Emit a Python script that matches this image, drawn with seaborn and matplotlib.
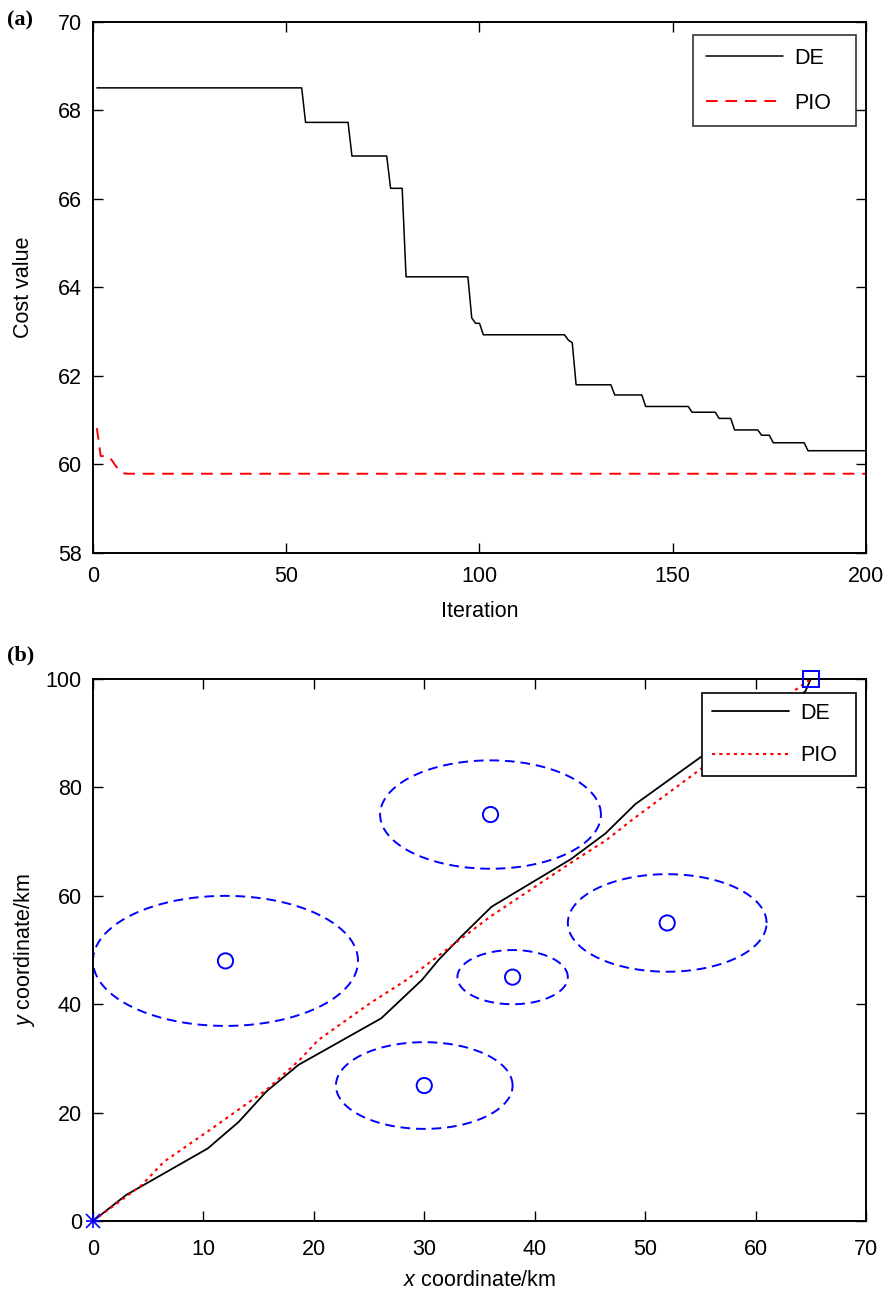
import matplotlib
matplotlib.use("Agg")
import matplotlib.pyplot as plt
import numpy as np
import pandas as pd
import seaborn as sns

# (a) convergence curves
de_iter = [1, 54, 55, 66, 67, 76, 77, 80, 81, 97, 98, 99, 100, 101, 122, 123, 124, 125,
           134, 135, 142, 143, 154, 155, 161, 162, 165, 166, 172, 173, 175, 176, 184, 185, 200]
de_cost = [68.51, 68.51, 67.73, 67.73, 66.97, 66.97, 66.24, 66.24, 64.24, 64.24, 63.31, 63.19, 63.19,
           62.93, 62.93, 62.81, 62.75, 61.80, 61.80, 61.57, 61.57, 61.31, 61.31, 61.18, 61.18,
           61.04, 61.04, 60.78, 60.78, 60.66, 60.66, 60.49, 60.49, 60.31, 60.31]
pio_iter = [1, 2, 3, 4, 5, 6, 7, 8, 9, 200]
pio_cost = [60.82, 60.19, 60.19, 60.18, 60.08, 59.95, 59.86, 59.80, 59.79, 59.79]

# (b) planned paths
de_x = [0, 3.0, 10.4, 13.2, 15.7, 18.6, 26.1, 29.8, 31.3, 33.4, 36.1, 43.3, 46.4, 49.1, 55.1, 60.0, 64.5, 65]
de_y = [0, 4.8, 13.4, 18.3, 23.9, 28.8, 37.4, 44.5, 48.2, 52.6, 58.0, 66.8, 71.5, 76.9, 85.7, 92.0, 97.7, 100]
pio_x = [0, 4.4, 6.4, 11.0, 15.7, 18.7, 20.4, 25.1, 28.4, 31.0, 36.0, 43.2, 46.5, 48.8, 55.1, 60.0, 63.4, 65]
pio_y = [0, 6.6, 10.9, 17.4, 24.2, 29.7, 33.4, 40.2, 44.5, 48.5, 56.2, 66.0, 70.3, 74.0, 83.5, 91.0, 97.7, 100]

# threat zones
threat_x = [12, 36, 38, 52, 30]
threat_y = [48, 75, 45, 55, 25]
threat_r = [12, 10, 5, 9, 8]
start_pt = (0, 0)
goal_pt = (65, 100)

FS = 15.5

sns.set_style("ticks")
plt.rcParams["font.family"] = ["Liberation Sans", "DejaVu Sans"]
plt.rcParams["font.size"] = FS
plt.rcParams["text.color"] = "black"
plt.rcParams["axes.labelcolor"] = "black"
plt.rcParams["xtick.color"] = "black"
plt.rcParams["ytick.color"] = "black"
plt.rcParams["mathtext.fontset"] = "custom"
plt.rcParams["mathtext.it"] = "Liberation Sans:italic"
plt.rcParams["mathtext.rm"] = "Liberation Sans"

fig = plt.figure(figsize=(8.89, 12.91), dpi=100)
ax1 = fig.add_axes([0.1046, 0.5717, 0.8695, 0.4113])
ax2 = fig.add_axes([0.1046, 0.0542, 0.8695, 0.4198])


def style(ax, xpad):
    for s in ax.spines.values():
        s.set_visible(True)
        s.set_linewidth(1.4)
        s.set_color("black")
    ax.tick_params(direction="in", length=7, width=1, top=True, right=True,
                   labelsize=FS, colors="black")
    ax.tick_params(axis="x", pad=xpad)
    ax.tick_params(axis="y", pad=8)
    ax.grid(False)


df_de = pd.DataFrame({"Iteration": de_iter, "Cost": de_cost})
df_pio = pd.DataFrame({"Iteration": pio_iter, "Cost": pio_cost})
sns.lineplot(data=df_de, x="Iteration", y="Cost", ax=ax1, color="black", lw=1.1,
             label="DE", sort=False)
sns.lineplot(data=df_pio, x="Iteration", y="Cost", ax=ax1, color="red", lw=1.4,
             label="PIO", sort=False, dashes=False, linestyle=(0, (6, 4)))
ax1.set_xlim(0, 200)
ax1.set_ylim(58, 70)
ax1.set_xticks([0, 50, 100, 150, 200])
ax1.set_yticks(np.arange(58, 71, 2))
style(ax1, 9.5)
ax1.set_xlabel("Iteration", fontsize=FS, labelpad=10)
ax1.set_ylabel("Cost value", fontsize=FS, labelpad=17)
leg1 = ax1.legend(loc="upper right", fontsize=FS, frameon=True, fancybox=False,
                  edgecolor="black", borderpad=0.6, handlelength=3.6, labelspacing=1.1,
                  handletextpad=0.5, borderaxespad=0, mode="expand",
                  bbox_to_anchor=(0.776, 0.5, 0.211, 0.4755))
leg1.get_frame().set_linewidth(1.2)

# threat circles
theta = np.linspace(0, 2 * np.pi, 200)
for cx, cy, r in zip(threat_x, threat_y, threat_r):
    ax2.plot(cx + r * np.cos(theta), cy + r * np.sin(theta), color="blue",
             lw=1.4, linestyle=(0, (5, 3)))
sns.scatterplot(x=threat_x, y=threat_y, ax=ax2, marker="o", s=120,
                facecolor="none", edgecolor="blue", linewidth=1.4, zorder=5)

df_pb_de = pd.DataFrame({"x": de_x, "y": de_y})
df_pb_pio = pd.DataFrame({"x": pio_x, "y": pio_y})
sns.lineplot(data=df_pb_de, x="x", y="y", ax=ax2, color="black", lw=1.3,
             label="DE", sort=False)
sns.lineplot(data=df_pb_pio, x="x", y="y", ax=ax2, color="red", lw=1.5,
             label="PIO", sort=False, linestyle=(0, (1.5, 2)))
for m in ("+", "x"):
    ax2.plot(*start_pt, marker=m, ms=10, color="blue", mew=1.2,
             clip_on=False, zorder=6)
ax2.plot(*goal_pt, marker="s", ms=12, color="blue", mfc="none", mew=1.4,
         clip_on=False, zorder=6)
ax2.set_xlim(0, 70)
ax2.set_ylim(0, 100)
ax2.set_xticks(np.arange(0, 71, 10))
ax2.set_yticks(np.arange(0, 101, 20))
style(ax2, 13)
ax2.set_xlabel(r"$\it{x}$ coordinate/km", fontsize=FS, labelpad=7)
ax2.set_ylabel(r"$\it{y}$ coordinate/km", fontsize=FS, labelpad=6.5)
leg2 = ax2.legend(loc="upper right", fontsize=FS, frameon=True, fancybox=False,
                  edgecolor="black", borderpad=0.45, handlelength=3.6, labelspacing=1.0,
                  handletextpad=0.5, borderaxespad=0, mode="expand",
                  bbox_to_anchor=(0.788, 0.5, 0.199, 0.474))
leg2.get_frame().set_linewidth(1.2)
leg2.get_frame().set_alpha(1)

fig.text(0.008, 0.984, "(a)", fontsize=16, fontweight="bold",
         family=["Liberation Serif", "DejaVu Serif"], va="center")
fig.text(0.008, 0.492, "(b)", fontsize=16, fontweight="bold",
         family=["Liberation Serif", "DejaVu Serif"], va="center")

fig.savefig("out.png", dpi=100)
